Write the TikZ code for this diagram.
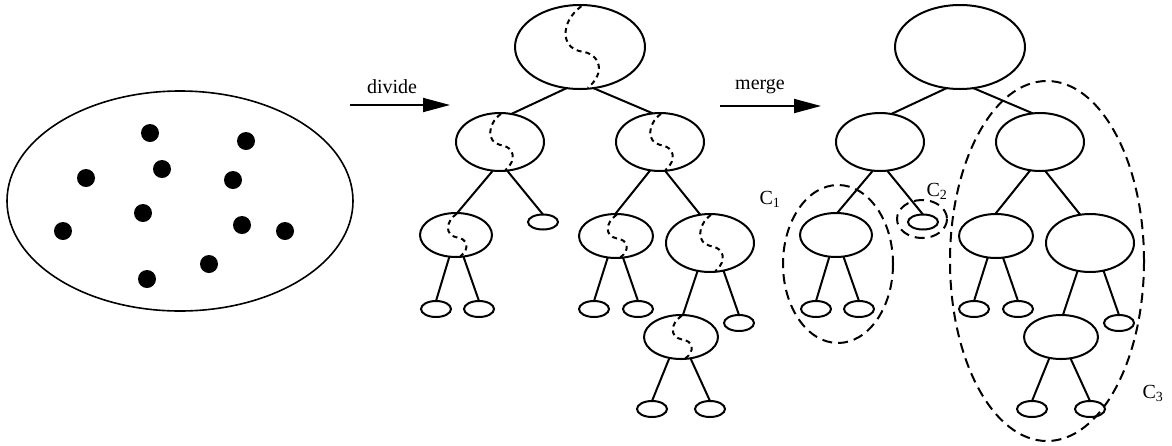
\documentclass[tikz,border=0pt]{standalone}
\usepackage{fontspec}
\setmainfont{Liberation Serif}
\usetikzlibrary{shapes.geometric,arrows.meta}
\tikzset{
  tn/.style={ellipse, draw, line width=2pt, inner sep=0pt, outer sep=0pt},
  edge/.style={line width=2pt},
  wavyline/.style={line width=2pt, dash pattern=on 5pt off 4pt},
  group/.style={line width=2pt, dash pattern=on 10pt off 6pt},
  dot/.style={circle, fill=black, inner sep=0pt, minimum size=18pt},
  lbl/.style={font=\fontsize{20}{24}\selectfont, inner sep=0pt},
  bigarrow/.style={line width=1.8pt, -{Triangle[length=27pt,width=14pt]}}
}
\newcommand\wavy[3]{%
  \begin{scope}[shift={(#1.center)}, x=#2pt, y=-#3pt]
    \draw[wavyline] (0.02,-0.97) .. controls (-0.3,-0.6) and (-0.3,0) .. (0,0.1)
      .. controls (0.32,0.15) and (0.4,0.62) .. (0.12,0.97);
  \end{scope}}
\begin{document}
\begin{tikzpicture}[x=1pt,y=-1pt]
\useasboundingbox (0,0) rectangle (1172,445);

% left set of points
\node[ellipse, draw, line width=1.6pt, minimum width=346pt, minimum height=220pt, inner sep=0pt] (set) at (180,201) {};
\foreach \i/\px/\py in {1/150/133, 2/246/141, 3/162/169, 4/86/178, 5/233/180, 6/143/213, 7/242/225, 8/63/231, 9/285/231, 10/209/264, 11/147/279}
  \node[dot] (d\i) at (\px,\py) {};

% arrows
\coordinate (dvs) at (350,105);
\coordinate (dve) at (450,105);
\draw[bigarrow] (dvs) -- (dve);
\node[lbl] (dvl) at (392,87) {divide};
\coordinate (mgs) at (720,106);
\coordinate (mge) at (821,106);
\draw[bigarrow] (mgs) -- (mge);
\node[lbl] (mgl) at (760,87) {merge};

% trees
\foreach \p/\dx in {m/-380, r/0} {
  \begin{scope}[xshift=\dx pt]
    \node[tn, minimum width=130pt, minimum height=84pt] (\p R) at (960,47) {};
    \node[tn, minimum width=88pt, minimum height=58pt] (\p A) at (880,142) {};
    \node[tn, minimum width=88pt, minimum height=58pt] (\p B) at (1040,142) {};
    \node[tn, minimum width=72pt, minimum height=44pt] (\p A1) at (836,235) {};
    \node[tn, minimum width=30pt, minimum height=15pt] (\p A2) at (923,222) {};
    \node[tn, minimum width=74pt, minimum height=44pt] (\p B1) at (996,236) {};
    \node[tn, minimum width=88pt, minimum height=58pt] (\p B2) at (1090,243) {};
    \node[tn, minimum width=30pt, minimum height=16pt] (\p A1a) at (816,309) {};
    \node[tn, minimum width=30pt, minimum height=16pt] (\p A1b) at (859,309) {};
    \node[tn, minimum width=30pt, minimum height=16pt] (\p B1a) at (974,309) {};
    \node[tn, minimum width=30pt, minimum height=16pt] (\p B1b) at (1018,309) {};
    \node[tn, minimum width=74pt, minimum height=44pt] (\p M) at (1061,337) {};
    \node[tn, minimum width=30pt, minimum height=16pt] (\p B2b) at (1119,323) {};
    \node[tn, minimum width=30pt, minimum height=16pt] (\p Ma) at (1032,409) {};
    \node[tn, minimum width=30pt, minimum height=16pt] (\p Mb) at (1090,409) {};
    \draw[edge] (\p R.252) -- (\p A.68);
    \draw[edge] (\p R.288) -- (\p B.104);
    \draw[edge] (\p A.256) -- (\p A1.87);
    \draw[edge] (\p A.284) -- (\p A2.north);
    \draw[edge] (\p B.251) -- (\p B1.92);
    \draw[edge] (\p B.280) -- (\p B2.109);
    \draw[edge] (\p A1.253) -- (\p A1a.north);
    \draw[edge] (\p A1.289) -- (\p A1b.north);
    \draw[edge] (\p B1.249) -- (\p B1a.north);
    \draw[edge] (\p B1.288) -- (\p B1b.north);
    \draw[edge] (\p B2.246) -- (\p M.85);
    \draw[edge] (\p B2.296) -- (\p B2b.north);
    \draw[edge] (\p M.241) -- (\p Ma.north);
    \draw[edge] (\p M.294) -- (\p Mb.north);
  \end{scope}
}

% dividing curves in the middle tree
\wavy{mR}{65}{42}
\wavy{mA}{44}{29}
\wavy{mB}{44}{29}
\wavy{mA1}{36}{22}
\wavy{mB1}{37}{22}
\wavy{mB2}{44}{29}
\wavy{mM}{37}{22}

% clusters in the merged tree
\draw[group] (838,264) ellipse [x radius=55, y radius=79];
\draw[group] (922,219) ellipse [x radius=25, y radius=19];
\draw[group] (1047,261) ellipse [x radius=97, y radius=180];
\node[lbl] (c1) at (770,199) {C\textsubscript{1}};
\node[lbl] (c2) at (937,191) {C\textsubscript{2}};
\node[lbl] (c3) at (1153,393) {C\textsubscript{3}};
\end{tikzpicture}
\end{document}
